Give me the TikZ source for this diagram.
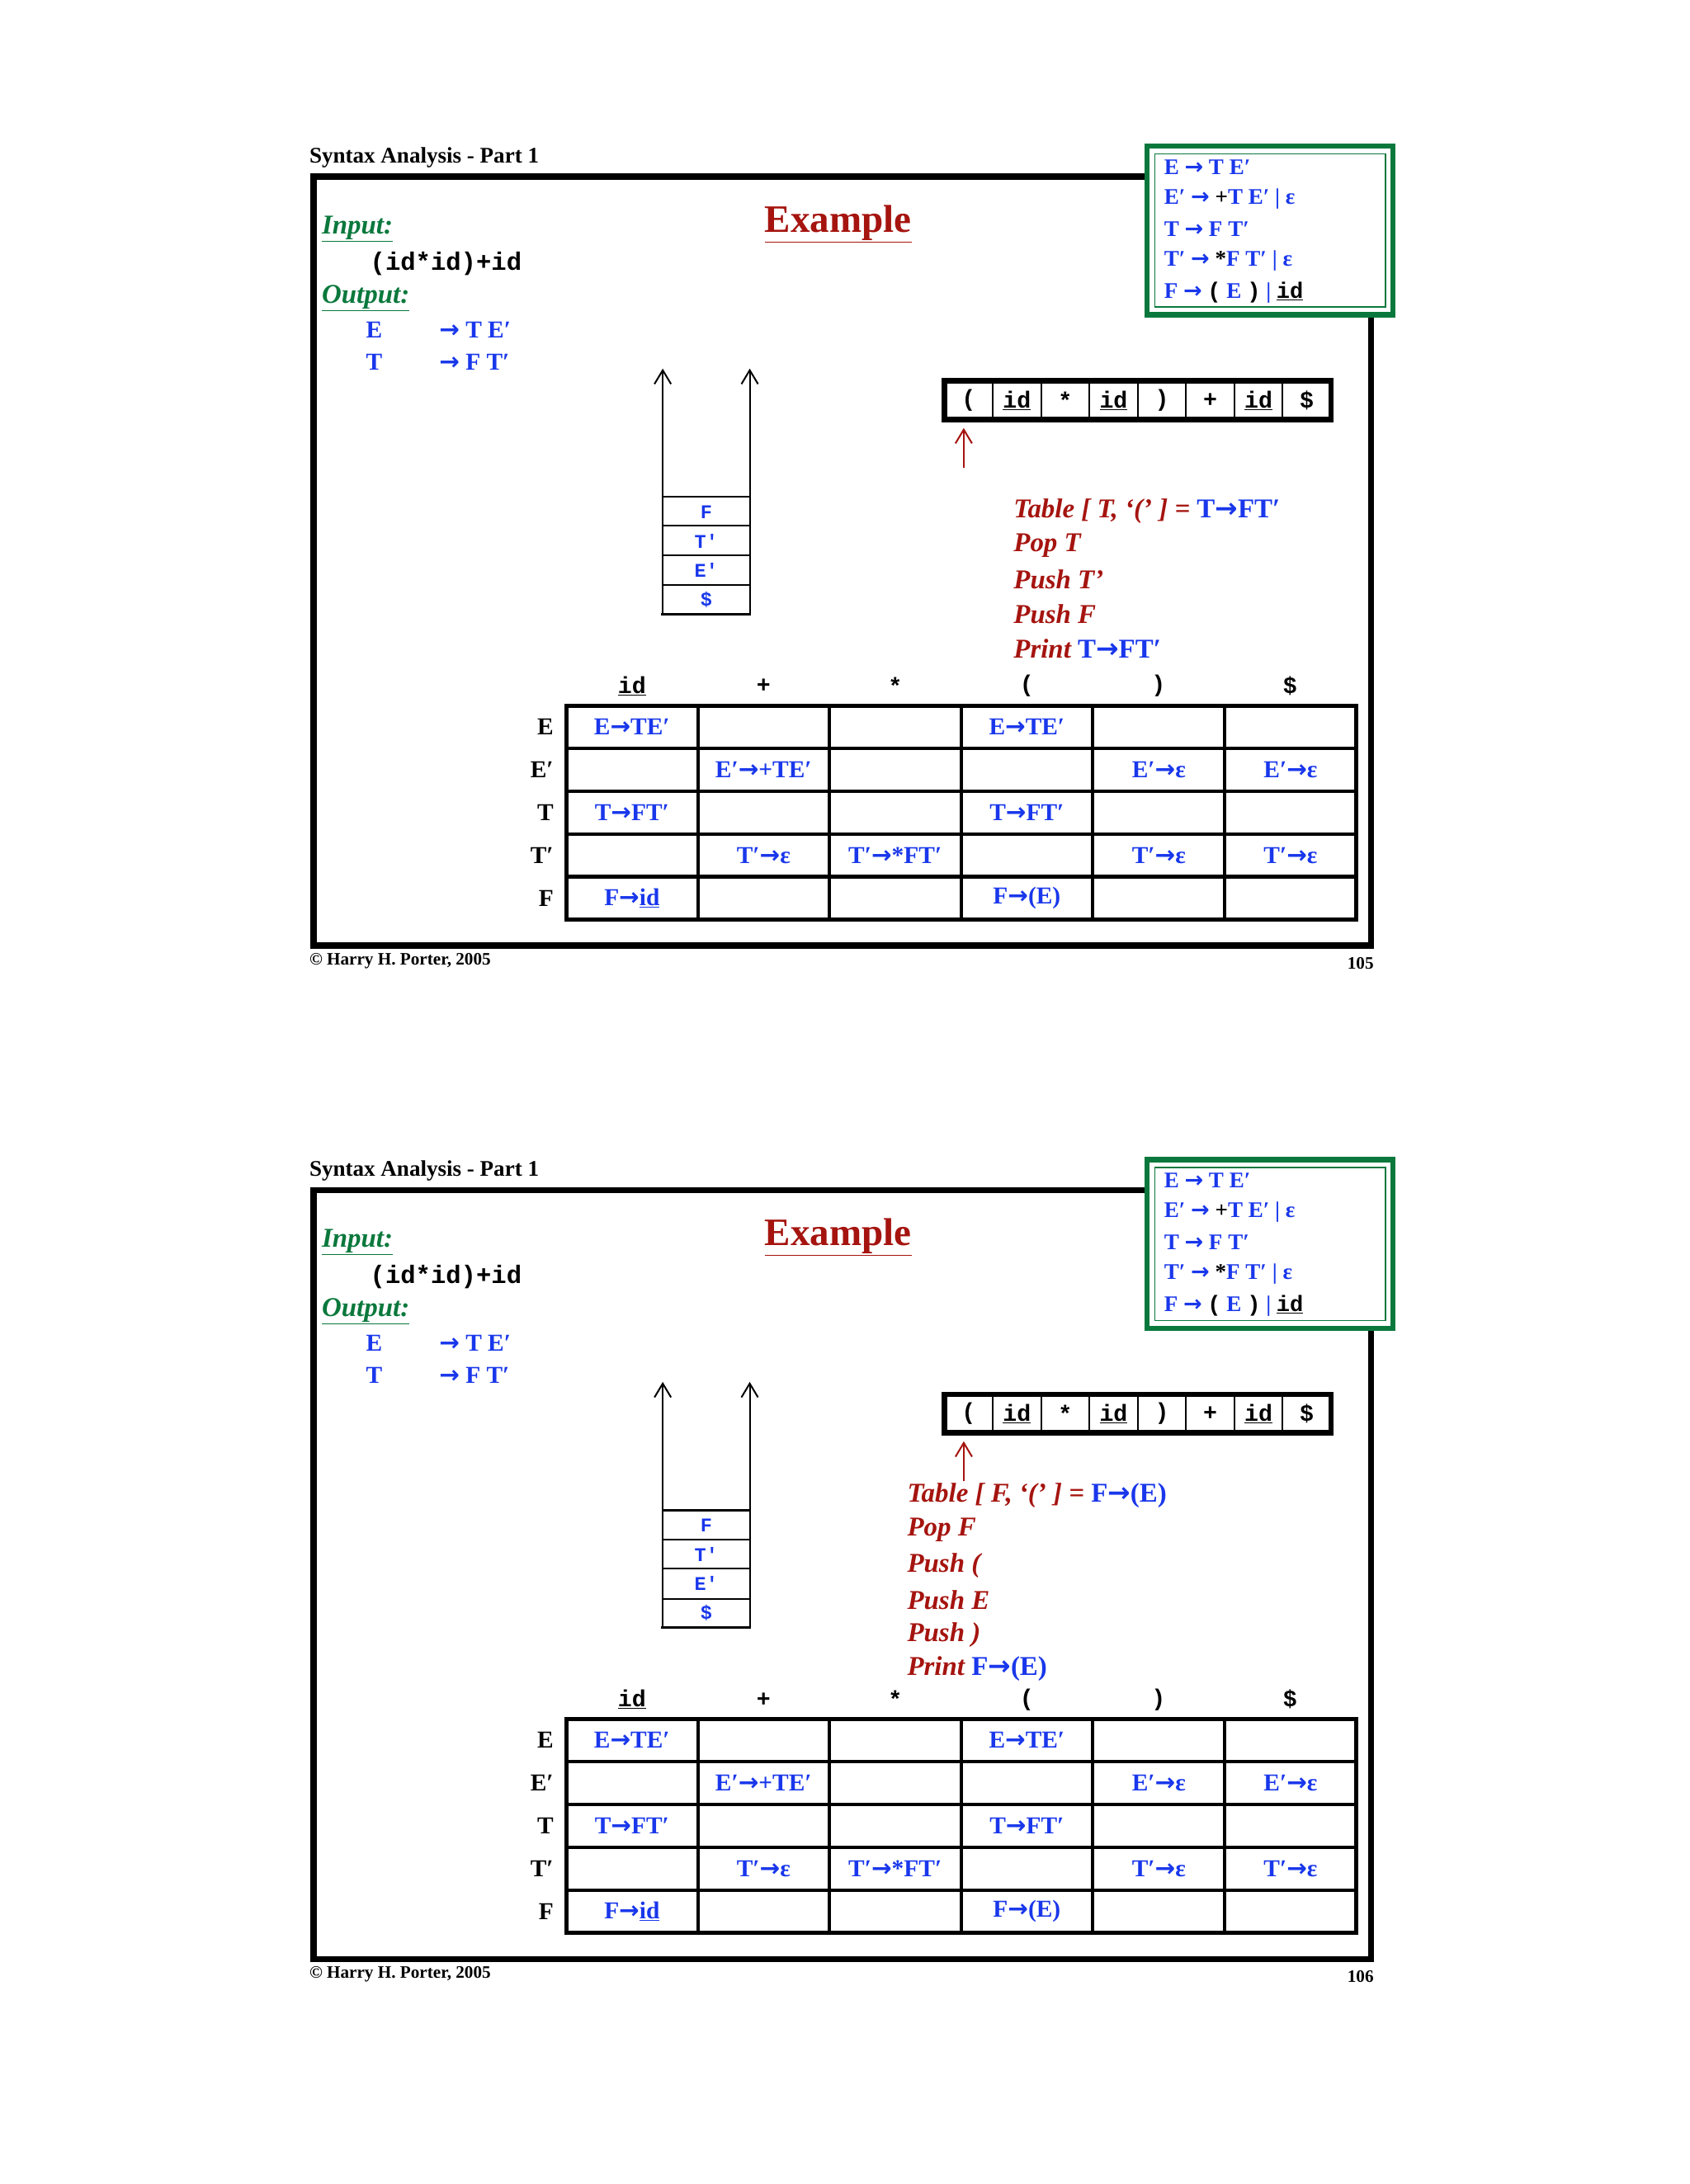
\documentclass[tikz,border=0pt]{standalone}
\usepackage{fontspec}
\setmainfont{Liberation Serif}
\setmonofont{Liberation Mono}
\newfontfamily\arrowfont{DejaVu Sans}
\usetikzlibrary{arrows.meta}
\definecolor{pblue}{RGB}{25,55,235}
\definecolor{pred}{RGB}{165,20,15}
\definecolor{pgreen}{RGB}{10,120,60}
\newcommand\fs[1]{\fontsize{#1}{#1}\selectfont}
\newcommand\bl[1]{\textcolor{pblue}{#1}}
\newcommand\uid{\underline{\texttt{id}}}
\newcommand\ar{{\arrowfont\bfseries\upshape →}}
\newcommand\p{′}
\tikzset{
  lt/.style={inner sep=0pt, anchor=west},
  ct/.style={inner sep=0pt, anchor=center},
  body/.style={font=\fs{25}\bfseries},
  gram/.style={lt, font=\fs{23}\bfseries, text=pblue},
  mono/.style={font=\fs{24}\ttfamily\bfseries},
  redt/.style={lt, font=\fs{28}\bfseries\itshape, text=pred},
  cell/.style={ct, body, text=pblue},
  barb/.style={-{Straight Barb[length=5mm,width=6mm,line width=0.6mm]}}
}
\newcommand\commonslide[1]{%
  \node[lt, font=\fs{23}\bfseries, anchor=base west] (title) at (224,118) {Syntax Analysis - Part 1};
  \draw[line width=2.2mm] (227,128) rectangle (993,685);
  % grammar box
  \draw[pgreen, line width=1.8mm, fill=white] (831,106) rectangle (1009,228);
  \draw[pgreen, line width=0.5mm] (836.5,111.5) rectangle (1003.5,222.5);
  \node[gram] (g1) at (843,121) {E \ar{} T E\p};
  \node[gram] (g2) at (843,144) {E\p{} \ar{} \textcolor{black}{+}T E\p{} | ε};
  \node[gram] (g3) at (843,166) {T \ar{} F T\p};
  \node[gram] (g4) at (843,189) {T\p{} \ar{} \textcolor{black}{*}F T\p{} | ε};
  \node[gram] (g5) at (843,212) {F \ar{} \textcolor{black}{\texttt{(}} E \textcolor{black}{\texttt{)}} | \textcolor{black}{\uid}};
  % input / output
  \node[lt, font=\fs{28}\bfseries\itshape, text=pgreen] (inp) at (233,166) {\underline{Input:}};
  \node[lt, font=\fs{26}\ttfamily\bfseries] (str) at (268,191) {(id*id)+id};
  \node[lt, font=\fs{28}\bfseries\itshape, text=pgreen] (outp) at (233,216) {\underline{Output:}};
  \node[lt, body, text=pblue] (o1a) at (265,239) {E};
  \node[lt, body, text=pblue] (o1b) at (318,239) {\ar{} T E\p};
  \node[lt, body, text=pblue] (o2a) at (265,262) {T};
  \node[lt, body, text=pblue] (o2b) at (318,262) {\ar{} F T\p};
  \node[ct, font=\fs{40}\bfseries, text=pred] (ex) at (607,162) {\underline{Example}};
  % stack
  \coordinate (sl) at (480,445); \coordinate (slt) at (480,267);
  \coordinate (sr) at (543,445); \coordinate (srt) at (543,267);
  \draw[line width=0.6mm, barb] (sl) -- (slt);
  \draw[line width=0.6mm, barb] (sr) -- (srt);
  \foreach \yy in {360,381,402,424} \draw[line width=0.6mm] (480,\yy) -- (543,\yy);
  \draw[line width=1mm] (479,445) -- (544,445);
  \node[ct, font=\fs{20}\ttfamily\bfseries, text=pblue] (s1) at (511.5,371) {F};
  \node[ct, font=\fs{20}\ttfamily\bfseries, text=pblue] (s2) at (511.5,392) {T′};
  \node[ct, font=\fs{20}\ttfamily\bfseries, text=pblue] (s3) at (511.5,413) {E′};
  \node[ct, font=\fs{20}\ttfamily\bfseries, text=pblue] (s4) at (511.5,434.5) {\$};
  % tape
  \foreach \k in {1,...,7} \draw[line width=0.6mm] ({684+35*\k},276) -- ({684+35*\k},304);
  \draw[line width=2mm] (684,276) rectangle (964,304);
  \foreach \t [count=\k from 0] in {{(},{\uid},{*},{\uid},{)},{+},{\uid},{\$}}
    \node[ct, mono] (tp\k) at ({701.5+35*\k},290) {\t};
  \coordinate (ra) at (698,339); \coordinate (rb) at (698,310);
  \draw[pred, line width=0.7mm, barb] (ra) -- (rb);
  % table
  \foreach \k in {1,...,5} \draw[line width=1.2mm] ({410+95.33*\k},511) -- ({410+95.33*\k},666);
  \foreach \k in {1,...,4} \draw[line width=1.2mm] (410,{511+31*\k}) -- (982,{511+31*\k});
  \draw[line width=1.5mm] (410,511) rectangle (982,666);
  \foreach \t [count=\k from 0] in {{\uid},{+},{*},{(},{)},{\$}}
    \node[ct, mono] (h\k) at ({457.7+95.33*\k},497) {\t};
  \foreach \t [count=\k from 0] in {E,E\p,T,T\p,F}
    \node[inner sep=0pt, anchor=east, body] (r\k) at (401,{526.5+31*\k}) {\t};
  \node[cell] (c01) at (457.7,526.5) {E\ar{}TE\p};
  \node[cell] (c04) at (743.7,526.5) {E\ar{}TE\p};
  \node[cell] (c12) at (553,557.5) {E\p\ar{}+TE\p};
  \node[cell] (c15) at (839.3,557.5) {E\p\ar{}ε};
  \node[cell] (c16) at (934.7,557.5) {E\p\ar{}ε};
  \node[cell] (c21) at (457.7,588.5) {T\ar{}FT\p};
  \node[cell] (c24) at (743.7,588.5) {T\ar{}FT\p};
  \node[cell] (c32) at (553,619.5) {T\p\ar{}ε};
  \node[cell] (c33) at (648.3,619.5) {T\p\ar{}*FT\p};
  \node[cell] (c35) at (839.3,619.5) {T\p\ar{}ε};
  \node[cell] (c36) at (934.7,619.5) {T\p\ar{}ε};
  \node[cell] (c41) at (457.7,650.5) {F\ar{}\underline{id}};
  \node[cell] (c44) at (743.7,650.5) {F\ar{}(E)};
  % footer
  \node[lt, font=\fs{18}\bfseries] (copy) at (224,696) {© Harry H. Porter, 2005};
  \node[inner sep=0pt, anchor=east, font=\fs{18}\bfseries] (pg) at (995,698) {#1};
}
\begin{document}
\begin{tikzpicture}[x=0.5mm,y=-0.5mm]
\useasboundingbox[fill=white] (0,0) rectangle (1224,1582);
\begin{scope}[name prefix=a-]
  \commonslide{105}
  \node[redt] (t1) at (734,370) {Table [ T, ‘(’ ] = \bl{\upshape T\ar{}FT\p}};
  \node[redt] (t2) at (734,395) {Pop T};
  \node[redt] (t3) at (734,420) {Push T’};
  \node[redt] (t4) at (734,445) {Push F};
  \node[redt] (t5) at (734,470) {Print \bl{\upshape T\ar{}FT\p}};
\end{scope}
\begin{scope}[shift={(0,734)}, name prefix=b-]
  \commonslide{106}
  \node[redt] (t1) at (657,349) {Table [ F, ‘(’ ] = \bl{\upshape F\ar{}(E)}};
  \node[redt] (t2) at (657,374) {Pop F};
  \node[redt] (t3) at (657,400) {Push (};
  \node[redt] (t4) at (657,425) {Push E};
  \node[redt] (t5) at (657,450) {Push )};
  \node[redt] (t6) at (657,475) {Print \bl{\upshape F\ar{}(E)}};
\end{scope}
\end{tikzpicture}
\end{document}
